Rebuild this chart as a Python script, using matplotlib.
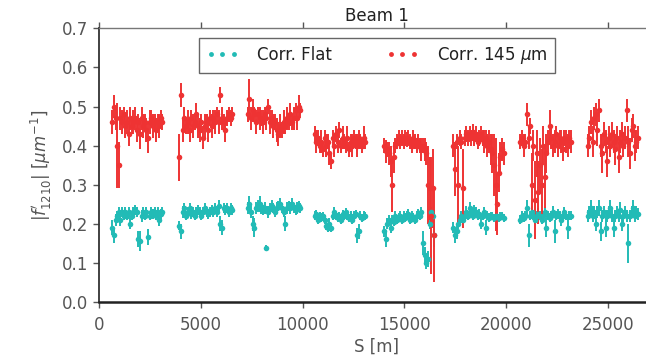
import numpy as np
import matplotlib
matplotlib.use("Agg")
import matplotlib.pyplot as plt
from matplotlib.lines import Line2D

# ---- data: BPM positions S [m] per arc ----
s_pos = [
    650, 730, 810, 890, 970, 1050, 1130, 1210, 1290, 1370, 1450, 1530, 1610, 1690, 1770, 1850,
    1930, 2010, 2090, 2170, 2250, 2330, 2410, 2490, 2570, 2650, 2730, 2810, 2890, 2970, 3040, 3100,
    3940, 4024, 4108, 4192, 4276, 4360, 4444, 4528, 4612, 4696, 4780, 4864, 4948, 5032, 5116, 5200,
    5284, 5368, 5452, 5536, 5620, 5704, 5788, 5872, 5956, 6040, 6124, 6208, 6292, 6376, 6460, 6544,
    7300, 7384, 7468, 7552, 7636, 7720, 7804, 7888, 7972, 8056, 8140, 8224, 8308, 8392, 8476, 8560,
    8644, 8728, 8812, 8896, 8980, 9064, 9148, 9232, 9316, 9400, 9484, 9568, 9652, 9736, 9820, 9880,
    10600, 10680, 10760, 10840, 10920, 11000, 11080, 11160, 11240, 11320, 11400, 11480, 11560, 11640, 11720, 11800,
    11880, 11960, 12040, 12120, 12200, 12280, 12360, 12440, 12520, 12600, 12680, 12760, 12840, 12920, 13000, 13080,
    14000, 14080, 14160, 14240, 14320, 14400, 14480, 14560, 14640, 14720, 14800, 14880, 14960, 15040, 15120, 15200,
    15280, 15360, 15440, 15520, 15600, 15680, 15760, 15840, 15920, 16000, 16080, 16160, 16240, 16320, 16400, 16460,
    17400, 17480, 17560, 17640, 17720, 17800, 17880, 17960, 18040, 18120, 18200, 18280, 18360, 18440, 18520, 18600,
    18680, 18760, 18840, 18920, 19000, 19080, 19160, 19240, 19320, 19400, 19480, 19560, 19640, 19720, 19800, 19880,
    20700, 20780, 20860, 20940, 21020, 21100, 21180, 21260, 21340, 21420, 21500, 21580, 21660, 21740, 21820, 21900,
    21980, 22060, 22140, 22220, 22300, 22380, 22460, 22540, 22620, 22700, 22780, 22860, 22940, 23020, 23100, 23180,
    24000, 24080, 24160, 24240, 24320, 24400, 24480, 24560, 24640, 24720, 24800, 24880, 24960, 25040, 25120, 25200,
    25280, 25360, 25440, 25520, 25600, 25680, 25760, 25840, 25920, 26000, 26080, 26160, 26240, 26320, 26400, 26480,
]

# ---- |f1210| with flat correction ----
flat_val = [
    0.19, 0.17, 0.21, 0.22, 0.23, 0.21, 0.23, 0.22, 0.23, 0.22, 0.23, 0.20, 0.22, 0.23, 0.235, 0.23,
    0.16, 0.155, 0.22, 0.23, 0.22, 0.23, 0.165, 0.22, 0.23, 0.225, 0.23, 0.22, 0.23, 0.21, 0.225, 0.23,
    0.195, 0.18, 0.23, 0.24, 0.22, 0.23, 0.24, 0.225, 0.23, 0.22, 0.23, 0.235, 0.23, 0.22, 0.23, 0.24,
    0.23, 0.225, 0.23, 0.235, 0.23, 0.24, 0.23, 0.245, 0.20, 0.19, 0.24, 0.235, 0.24, 0.23, 0.24, 0.235,
    0.24, 0.25, 0.23, 0.20, 0.19, 0.24, 0.245, 0.25, 0.24, 0.235, 0.24, 0.137, 0.23, 0.24, 0.245, 0.24,
    0.23, 0.24, 0.245, 0.25, 0.24, 0.23, 0.20, 0.24, 0.245, 0.24, 0.25, 0.24, 0.235, 0.24, 0.245, 0.24,
    0.22, 0.225, 0.21, 0.22, 0.215, 0.22, 0.21, 0.195, 0.19, 0.20, 0.19, 0.22, 0.23, 0.22, 0.215, 0.22,
    0.21, 0.225, 0.22, 0.23, 0.22, 0.215, 0.22, 0.21, 0.22, 0.225, 0.17, 0.18, 0.22, 0.215, 0.22, 0.22,
    0.18, 0.16, 0.20, 0.21, 0.19, 0.21, 0.205, 0.22, 0.21, 0.215, 0.22, 0.21, 0.22, 0.215, 0.22, 0.225,
    0.21, 0.22, 0.215, 0.21, 0.22, 0.225, 0.22, 0.23, 0.15, 0.12, 0.10, 0.11, 0.20, 0.23, 0.22, 0.17,
    0.19, 0.17, 0.18, 0.20, 0.21, 0.22, 0.21, 0.22, 0.23, 0.22, 0.24, 0.23, 0.22, 0.235, 0.23, 0.22,
    0.225, 0.20, 0.22, 0.23, 0.19, 0.22, 0.215, 0.22, 0.22, 0.215, 0.22, 0.22, 0.215, 0.22, 0.22, 0.215,
    0.21, 0.22, 0.215, 0.22, 0.24, 0.17, 0.22, 0.23, 0.22, 0.21, 0.22, 0.225, 0.22, 0.21, 0.22, 0.23,
    0.19, 0.22, 0.215, 0.22, 0.23, 0.18, 0.22, 0.225, 0.22, 0.21, 0.22, 0.23, 0.22, 0.19, 0.22, 0.22,
    0.22, 0.23, 0.24, 0.22, 0.23, 0.20, 0.23, 0.24, 0.18, 0.22, 0.23, 0.19, 0.22, 0.23, 0.24, 0.22,
    0.19, 0.22, 0.23, 0.22, 0.235, 0.20, 0.22, 0.23, 0.22, 0.15, 0.22, 0.23, 0.24, 0.22, 0.23, 0.225,
]
flat_err = [
    0.02, 0.02, 0.015, 0.012, 0.012, 0.015, 0.012, 0.012, 0.012, 0.012, 0.012, 0.015, 0.012, 0.012, 0.012, 0.012,
    0.02, 0.025, 0.015, 0.012, 0.012, 0.012, 0.02, 0.012, 0.012, 0.012, 0.012, 0.012, 0.012, 0.015, 0.012, 0.012,
    0.012, 0.02, 0.015, 0.012, 0.012, 0.012, 0.012, 0.012, 0.012, 0.012, 0.012, 0.012, 0.012, 0.012, 0.012, 0.012,
    0.012, 0.012, 0.012, 0.012, 0.012, 0.012, 0.012, 0.015, 0.02, 0.02, 0.012, 0.012, 0.012, 0.012, 0.012, 0.012,
    0.015, 0.02, 0.015, 0.02, 0.025, 0.015, 0.015, 0.02, 0.015, 0.012, 0.015, 0.008, 0.015, 0.012, 0.015, 0.012,
    0.012, 0.015, 0.012, 0.015, 0.012, 0.012, 0.02, 0.015, 0.012, 0.015, 0.015, 0.012, 0.012, 0.015, 0.012, 0.012,
    0.012, 0.01, 0.012, 0.01, 0.012, 0.01, 0.012, 0.012, 0.012, 0.015, 0.012, 0.01, 0.012, 0.01, 0.012, 0.01,
    0.012, 0.01, 0.012, 0.01, 0.012, 0.01, 0.012, 0.01, 0.012, 0.01, 0.02, 0.02, 0.012, 0.01, 0.012, 0.01,
    0.015, 0.02, 0.015, 0.012, 0.015, 0.012, 0.012, 0.012, 0.012, 0.012, 0.012, 0.012, 0.012, 0.012, 0.012, 0.012,
    0.012, 0.012, 0.012, 0.012, 0.012, 0.012, 0.012, 0.012, 0.03, 0.02, 0.015, 0.02, 0.015, 0.012, 0.012, 0.03,
    0.015, 0.02, 0.02, 0.015, 0.012, 0.012, 0.012, 0.012, 0.015, 0.012, 0.015, 0.012, 0.012, 0.012, 0.012, 0.012,
    0.012, 0.015, 0.012, 0.012, 0.02, 0.012, 0.012, 0.01, 0.01, 0.01, 0.01, 0.01, 0.01, 0.01, 0.01, 0.01,
    0.012, 0.012, 0.012, 0.012, 0.02, 0.03, 0.012, 0.015, 0.012, 0.012, 0.012, 0.015, 0.012, 0.012, 0.012, 0.012,
    0.025, 0.012, 0.012, 0.012, 0.015, 0.03, 0.012, 0.012, 0.012, 0.015, 0.012, 0.012, 0.012, 0.03, 0.012, 0.012,
    0.015, 0.015, 0.02, 0.015, 0.015, 0.02, 0.015, 0.02, 0.025, 0.015, 0.015, 0.025, 0.015, 0.015, 0.02, 0.015,
    0.025, 0.015, 0.015, 0.015, 0.02, 0.02, 0.015, 0.015, 0.015, 0.05, 0.015, 0.015, 0.02, 0.015, 0.015, 0.015,
]

# ---- |f1210| with 145 um correction ----
corr145_val = [
    0.46, 0.50, 0.47, 0.40, 0.35, 0.47, 0.46, 0.48, 0.45, 0.46, 0.43, 0.47, 0.45, 0.46, 0.47, 0.44,
    0.46, 0.43, 0.47, 0.45, 0.46, 0.44, 0.42, 0.46, 0.47, 0.45, 0.46, 0.44, 0.46, 0.45, 0.47, 0.46,
    0.37, 0.53, 0.44, 0.47, 0.45, 0.46, 0.44, 0.47, 0.45, 0.46, 0.48, 0.45, 0.44, 0.46, 0.42, 0.45,
    0.46, 0.44, 0.47, 0.45, 0.47, 0.46, 0.48, 0.46, 0.53, 0.47, 0.46, 0.44, 0.47, 0.48, 0.47, 0.48,
    0.48, 0.52, 0.47, 0.49, 0.48, 0.46, 0.48, 0.47, 0.47, 0.46, 0.48, 0.47, 0.50, 0.46, 0.47, 0.45,
    0.46, 0.44, 0.43, 0.45, 0.44, 0.46, 0.45, 0.47, 0.46, 0.48, 0.46, 0.47, 0.49, 0.47, 0.50, 0.49,
    0.43, 0.41, 0.42, 0.40, 0.41, 0.39, 0.42, 0.40, 0.41, 0.38, 0.36, 0.42, 0.40, 0.43, 0.41, 0.44,
    0.40, 0.42, 0.41, 0.40, 0.42, 0.39, 0.41, 0.40, 0.42, 0.41, 0.40, 0.42, 0.41, 0.40, 0.42, 0.41,
    0.40, 0.385, 0.39, 0.38, 0.36, 0.30, 0.37, 0.40, 0.41, 0.42, 0.41, 0.42, 0.41, 0.42, 0.415, 0.42,
    0.41, 0.40, 0.42, 0.41, 0.40, 0.41, 0.40, 0.39, 0.40, 0.39, 0.38, 0.30, 0.29, 0.22, 0.29, 0.17,
    0.40, 0.34, 0.41, 0.30, 0.42, 0.41, 0.29, 0.42, 0.43, 0.42, 0.43, 0.42, 0.435, 0.42, 0.43, 0.41,
    0.42, 0.43, 0.42, 0.41, 0.42, 0.40, 0.41, 0.39, 0.38, 0.35, 0.30, 0.25, 0.33, 0.37, 0.39, 0.38,
    0.41, 0.42, 0.40, 0.41, 0.48, 0.42, 0.45, 0.30, 0.40, 0.26, 0.38, 0.28, 0.35, 0.30, 0.40, 0.32,
    0.38, 0.41, 0.45, 0.42, 0.40, 0.41, 0.43, 0.40, 0.42, 0.41, 0.39, 0.42, 0.41, 0.40, 0.42, 0.41,
    0.40, 0.42, 0.46, 0.41, 0.47, 0.48, 0.44, 0.49, 0.40, 0.38, 0.43, 0.41, 0.36, 0.42, 0.40, 0.43,
    0.41, 0.39, 0.42, 0.37, 0.41, 0.43, 0.40, 0.42, 0.49, 0.41, 0.38, 0.44, 0.45, 0.40, 0.41, 0.42,
]
corr145_err = [
    0.03, 0.03, 0.03, 0.11, 0.06, 0.03, 0.03, 0.02, 0.03, 0.03, 0.03, 0.03, 0.02, 0.03, 0.03, 0.03,
    0.02, 0.04, 0.03, 0.03, 0.02, 0.03, 0.04, 0.03, 0.02, 0.03, 0.02, 0.03, 0.02, 0.03, 0.02, 0.02,
    0.06, 0.03, 0.03, 0.03, 0.02, 0.03, 0.03, 0.02, 0.03, 0.02, 0.03, 0.03, 0.03, 0.02, 0.03, 0.03,
    0.02, 0.03, 0.02, 0.03, 0.02, 0.03, 0.02, 0.03, 0.02, 0.03, 0.02, 0.03, 0.02, 0.02, 0.02, 0.02,
    0.02, 0.05, 0.03, 0.03, 0.02, 0.03, 0.02, 0.03, 0.02, 0.03, 0.02, 0.03, 0.02, 0.03, 0.02, 0.03,
    0.02, 0.03, 0.03, 0.03, 0.02, 0.03, 0.02, 0.03, 0.02, 0.03, 0.02, 0.03, 0.02, 0.03, 0.03, 0.02,
    0.02, 0.03, 0.02, 0.02, 0.03, 0.02, 0.02, 0.03, 0.02, 0.03, 0.02, 0.02, 0.03, 0.02, 0.03, 0.02,
    0.02, 0.03, 0.02, 0.02, 0.03, 0.02, 0.02, 0.03, 0.02, 0.02, 0.03, 0.02, 0.02, 0.02, 0.03, 0.02,
    0.02, 0.03, 0.02, 0.03, 0.04, 0.07, 0.04, 0.02, 0.02, 0.02, 0.02, 0.02, 0.02, 0.02, 0.02, 0.02,
    0.02, 0.02, 0.02, 0.02, 0.02, 0.02, 0.02, 0.03, 0.02, 0.03, 0.03, 0.10, 0.08, 0.15, 0.10, 0.12,
    0.03, 0.07, 0.02, 0.10, 0.02, 0.02, 0.10, 0.02, 0.02, 0.02, 0.02, 0.02, 0.02, 0.02, 0.02, 0.02,
    0.02, 0.02, 0.02, 0.03, 0.02, 0.03, 0.03, 0.04, 0.05, 0.08, 0.12, 0.08, 0.05, 0.04, 0.03, 0.03,
    0.02, 0.02, 0.03, 0.02, 0.03, 0.03, 0.02, 0.08, 0.04, 0.10, 0.06, 0.08, 0.07, 0.09, 0.05, 0.08,
    0.05, 0.03, 0.04, 0.03, 0.03, 0.03, 0.02, 0.03, 0.02, 0.03, 0.03, 0.02, 0.03, 0.03, 0.02, 0.03,
    0.03, 0.03, 0.03, 0.04, 0.03, 0.03, 0.04, 0.03, 0.03, 0.05, 0.03, 0.03, 0.04, 0.03, 0.03, 0.03,
    0.03, 0.04, 0.03, 0.04, 0.03, 0.03, 0.03, 0.03, 0.03, 0.04, 0.04, 0.03, 0.03, 0.04, 0.03, 0.03,
]

series_labels = ["Corr. Flat", r"Corr. 145 $\mu$m"]
title_text = "Beam 1"
xlabel_text = "S [m]"
ylabel_text = r"$|f^{\prime}_{1210}|$ $[\mu m^{-1}]$"
x_ticks = [0, 5000, 10000, 15000, 20000, 25000]
y_ticks = [0.0, 0.1, 0.2, 0.3, 0.4, 0.5, 0.6, 0.7]

# ---- style ----
CYAN = "#22bbb6"
RED = "#ee3333"
GREY = "#555555"

plt.rcParams["font.family"] = ["DejaVu Sans"]
fig = plt.figure(figsize=(6.46, 3.60), dpi=100)
ax = fig.add_axes([0.1533, 0.162, 0.86, 0.759])

common = dict(fmt="o", ms=4.0, capsize=3.0, elinewidth=1.4, capthick=1.1, mew=0)
ax.errorbar(s_pos, flat_val, yerr=flat_err, color=CYAN, ecolor=CYAN, **common)
ax.errorbar(s_pos, corr145_val, yerr=corr145_err, color=RED, ecolor=RED, **common)

ax.set_xlim(0, 27290)
ax.set_ylim(0.0, 0.7)
ax.set_xticks(x_ticks)
ax.set_yticks(y_ticks)
ax.set_yticklabels([f"{v:.1f}" for v in y_ticks])

ax.tick_params(axis="both", direction="out", length=4, width=1, colors=GREY,
               labelsize=12, labelcolor=GREY, top=True, right=False)
ax.tick_params(axis="x", pad=6)
ax.spines["bottom"].set_linewidth(1.8)
ax.spines["bottom"].set_color("#222222")
ax.spines["left"].set_linewidth(1.3)
ax.spines["left"].set_color("#333333")
ax.spines["top"].set_linewidth(1.0)
ax.spines["top"].set_color("#777777")
ax.spines["right"].set_visible(False)

ax.set_title(title_text, fontsize=12, pad=5, color="#222222")
ax.set_xlabel(xlabel_text, fontsize=12, color=GREY, labelpad=3)
ax.set_ylabel(ylabel_text, fontsize=12, color=GREY, labelpad=6)

handles = [Line2D([], [], ls="", marker="o", ms=3.5, color=CYAN, mew=0),
           Line2D([], [], ls="", marker="o", ms=3.5, color=RED, mew=0)]
leg = ax.legend(handles, series_labels, loc="upper center", bbox_to_anchor=(0.5, 0.997),
                ncol=2, numpoints=3, fontsize=12, frameon=True, fancybox=False,
                framealpha=1, edgecolor="#666666", handlelength=2.0,
                handletextpad=1.1, columnspacing=3.2, borderpad=0.42, borderaxespad=0.5)
leg.get_frame().set_linewidth(1.0)
for t in leg.get_texts():
    t.set_color("#222222")

fig.savefig("out.png", dpi=100)
